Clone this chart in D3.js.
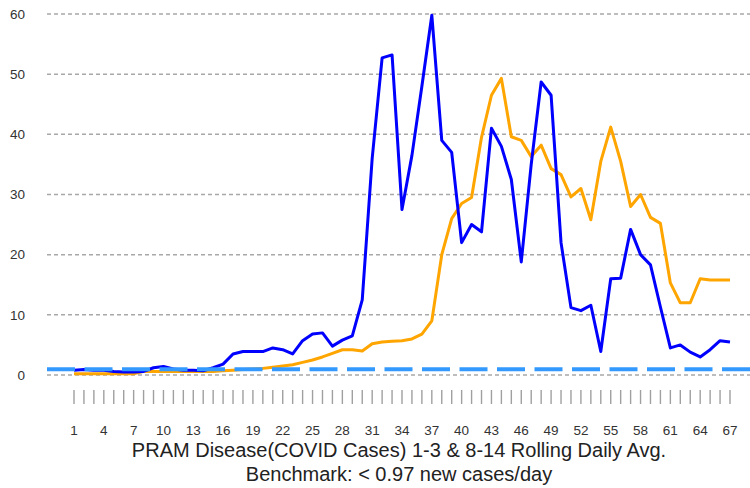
<!DOCTYPE html>
<html>
<head>
<meta charset="utf-8">
<script src="https://cdn.jsdelivr.net/npm/d3@7"></script>
<style>
  body { margin: 0; background: #fff; }
  svg { display: block; font-family: 'Liberation Sans', Arial, sans-serif; }
  .tick-label { fill: #333; font-size: 13.5px; }
  .title { fill: #222; font-size: 20px; }
</style>
</head>
<body>
<main></main>
<script>
// days 1..67
const days = d3.range(1, 68);

// 1-3 day rolling avg (blue)
const shortAvg = [
  0.8, 0.9, 0.8, 0.8, 0.6, 0.5, 0.5, 0.6, 1.2, 1.4,
  1.0, 0.8, 0.8, 0.7, 1.2, 1.8, 3.5, 3.9, 3.9, 3.9,
  4.5, 4.2, 3.5, 5.7, 6.8, 7.0, 4.8, 5.8, 6.5, 12.5,
  36, 52.7, 53.2, 27.5, 36.5, 48, 59.8, 39, 37, 22,
  25, 23.8, 41, 38, 32.5, 18.8, 35, 48.7, 46.5, 22,
  11.2, 10.7, 11.6, 3.9, 16, 16.1, 24.2, 20, 18.3, 11.3,
  4.5, 5, 3.8, 3, 4.2, 5.7, 5.5
];

// 8-14 day rolling avg (orange)
const longAvg = [
  0.2, 0.2, 0.2, 0.2, 0.2, 0.2, 0.2, 0.6, 0.6, 0.6,
  0.6, 0.6, 0.6, 0.6, 0.6, 0.7, 0.8, 0.9, 1.0, 1.1,
  1.3, 1.5, 1.7, 2.1, 2.5, 3.0, 3.6, 4.2, 4.2, 4.0,
  5.2, 5.5, 5.6, 5.7, 6.0, 6.8, 9.0, 20, 26, 28.5,
  29.5, 39.5, 46.5, 49.3, 39.6, 39, 36.3, 38.2, 34.3, 33.3,
  29.6, 31, 25.8, 35.5, 41.2, 35.5, 28, 30, 26.2, 25.2,
  15.3, 12, 12, 16, 15.8, 15.8, 15.8
];

const benchmark = 0.97;
const yTicks = [0, 10, 20, 30, 40, 50, 60];
const xTickLabels = d3.range(1, 68, 3);
const titleLines = [
  'PRAM Disease(COVID Cases) 1-3 & 8-14 Rolling Daily Avg.',
  'Benchmark: < 0.97 new cases/day'
];

const width = 750;
const height = 488;

const svg = d3
  .select('main')
  .append('svg')
  .attr('width', width)
  .attr('height', height);

const xScale = d3.scaleLinear().domain([1, 67]).range([74, 730]);
const yScale = d3.scaleLinear().domain([0, 60]).range([375, 14]);

const gridLeft = 47;
const gridRight = 750;

// gridlines
svg
  .append('g')
  .selectAll('line')
  .data(yTicks)
  .enter()
  .append('line')
  .attr('x1', gridLeft)
  .attr('x2', gridRight)
  .attr('y1', d => yScale(d))
  .attr('y2', d => yScale(d))
  .attr('stroke', '#a8a8a8')
  .attr('stroke-width', 1.5)
  .attr('stroke-dasharray', '4,3');

// y labels
svg
  .append('g')
  .selectAll('text')
  .data(yTicks)
  .enter()
  .append('text')
  .attr('class', 'tick-label')
  .attr('x', 25)
  .attr('y', d => yScale(d))
  .attr('dy', '0.35em')
  .attr('text-anchor', 'end')
  .text(d => d);

// x ticks, one per day
svg
  .append('g')
  .selectAll('line')
  .data(days)
  .enter()
  .append('line')
  .attr('x1', d => xScale(d))
  .attr('x2', d => xScale(d))
  .attr('y1', 390)
  .attr('y2', 404)
  .attr('stroke', '#a0a0a0')
  .attr('stroke-width', 1.4);

svg
  .append('g')
  .selectAll('text')
  .data(xTickLabels)
  .enter()
  .append('text')
  .attr('class', 'tick-label')
  .attr('x', d => xScale(d))
  .attr('y', 435)
  .attr('text-anchor', 'middle')
  .text(d => d);

const line = d3
  .line()
  .x((d, i) => xScale(days[i]))
  .y(d => yScale(d));

svg
  .append('path')
  .datum(longAvg)
  .attr('fill', 'none')
  .attr('stroke', '#FFA500')
  .attr('stroke-width', 3)
  .attr('stroke-linejoin', 'round')
  .attr('d', line);

svg
  .append('path')
  .datum(shortAvg)
  .attr('fill', 'none')
  .attr('stroke', '#0000FF')
  .attr('stroke-width', 3)
  .attr('stroke-linejoin', 'round')
  .attr('d', line);

// benchmark
svg
  .append('line')
  .attr('x1', gridLeft)
  .attr('x2', gridRight)
  .attr('y1', yScale(benchmark))
  .attr('y2', yScale(benchmark))
  .attr('stroke', '#3399FF')
  .attr('stroke-width', 4)
  .attr('stroke-dasharray', '28,9.5');

svg
  .selectAll('.title')
  .data(titleLines)
  .enter()
  .append('text')
  .attr('class', 'title')
  .attr('x', 399)
  .attr('y', (d, i) => 457 + i * 24)
  .attr('text-anchor', 'middle')
  .text(d => d);
</script>
</body>
</html>
